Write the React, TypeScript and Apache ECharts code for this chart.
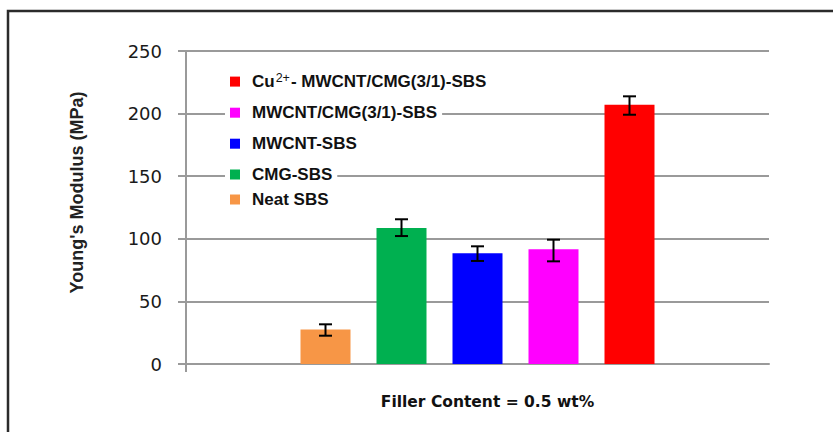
import React, { useEffect, useRef } from 'react';
import * as echarts from 'echarts';

// ---- data ----
const categories = ['0.5 wt%'];
const materials = ['Neat SBS', 'CMG-SBS', 'MWCNT-SBS', 'MWCNT/CMG(3/1)-SBS', 'Cu2+- MWCNT/CMG(3/1)-SBS'];
const modulus = [27.5, 108.6, 88.4, 91.6, 207.1];
const errLow = [22.6, 102.2, 82.3, 82.0, 199.1];
const errHigh = [31.7, 115.6, 94.0, 99.3, 213.8];
const colors = ['#F79646', '#00B050', '#0000FF', '#FF00FF', '#FF0000'];
const yMin = 0;
const yMax = 250;
const yStep = 50;
const yTitle = "Young's Modulus (MPa)";
const xTitle = 'Filler Content = 0.5 wt%';

// legend rows, top to bottom
const legendOrder = [4, 3, 2, 1, 0];
const legendRowCenters = [81.6, 112.7, 143.7, 174.5, 199.5];

const BAR_WIDTH = 50;
const BAR_GAP = '52%';
const GRID = '#9a9a9a';

export default function App() {
  const ref = useRef<HTMLDivElement>(null);
  useEffect(() => {
    if (!ref.current) return;
    const chart = echarts.init(ref.current, null, { renderer: 'svg' });

    const barSeries = materials.map((name, i) => ({
      type: 'bar',
      name,
      data: [modulus[i]],
      barWidth: BAR_WIDTH,
      barGap: BAR_GAP,
      itemStyle: { color: colors[i] },
      z: 2,
    }));

    const errData = materials.map((_, i) => [0, errLow[i], errHigh[i], i]);

    const legends = legendOrder.map((idx, row) => ({
      show: true,
      data: [materials[idx]],
      left: 225,
      top: legendRowCenters[row] - 10,
      orient: 'vertical',
      padding: [0, 5, 0, 5],
      backgroundColor: '#ffffff',
      itemWidth: 10,
      itemHeight: 10,
      icon: 'rect',
      selectedMode: false,
      formatter: (name: string) =>
        name.startsWith('Cu2+') ? '{t|Cu}{s|2+}{t|- MWCNT/CMG(3/1)-SBS}' : name,
      textStyle: {
        fontFamily: 'Liberation Sans, Arial, sans-serif',
        fontWeight: 'bold',
        fontSize: 17,
        color: '#111',
        lineHeight: 20,
        padding: [0, 0, 0, 7],
        rich: {
          t: {
            fontFamily: 'Liberation Sans, Arial, sans-serif',
            fontWeight: 'bold',
            fontSize: 17,
            color: '#111',
            lineHeight: 20,
          },
          s: {
            fontFamily: 'Liberation Sans, Arial, sans-serif',
            fontWeight: 'normal',
            fontSize: 12.5,
            color: '#111',
            lineHeight: 20,
            verticalAlign: 'top',
            padding: [0, 1, 8, 1],
          },
        },
      },
    }));

    chart.setOption({
      animation: false,
      backgroundColor: '#ffffff',
      grid: { left: 186, right: 64, top: 51, bottom: 68, containLabel: false },
      legend: legends,
      xAxis: {
        type: 'category',
        data: categories,
        axisLine: { show: true, lineStyle: { color: GRID, width: 2 } },
        axisTick: { show: false },
        axisLabel: { show: false },
        splitLine: { show: false },
        name: xTitle,
        nameLocation: 'middle',
        nameGap: 30,
        nameTextStyle: {
          fontFamily: 'DejaVu Sans, sans-serif',
          fontWeight: 'bold',
          fontSize: 15.5,
          color: '#111',
          padding: [0, 0, 0, 20],
        },
      },
      yAxis: {
        type: 'value',
        min: yMin,
        max: yMax,
        interval: yStep,
        axisLine: { show: true, lineStyle: { color: GRID, width: 2 } },
        axisTick: { show: true, length: 8, lineStyle: { color: GRID, width: 2 } },
        splitLine: { show: true, lineStyle: { color: GRID, width: 2 } },
        axisLabel: {
          margin: 24,
          fontFamily: 'DejaVu Sans, sans-serif',
          fontSize: 18,
          color: '#1a1a1a',
        },
        name: yTitle,
        nameLocation: 'middle',
        nameRotate: 90,
        nameGap: 100,
        nameTextStyle: {
          fontFamily: 'Liberation Sans, Arial, sans-serif',
          fontWeight: 'bold',
          fontSize: 18,
          color: '#222',
          padding: [0, 0, 0, 30],
        },
      },
      graphic: [
        {
          type: 'polyline',
          shape: { points: [[8, 432], [8, 11], [833, 11]] },
          style: { stroke: '#2b2b2b', lineWidth: 2.5, fill: null },
          silent: true,
        },
        {
          type: 'line',
          shape: { x1: 186, y1: 364, x2: 186, y2: 372 },
          style: { stroke: GRID, lineWidth: 2 },
          silent: true,
        },
      ],
      series: [
        ...barSeries,
        {
          type: 'custom',
          name: 'error',
          data: errData,
          encode: { x: 0, y: [1, 2] },
          z: 5,
          silent: true,
          renderItem: (params: any, api: any) => {
            const low = api.value(1);
            const high = api.value(2);
            const k = api.value(3);
            const layout = api.barLayout({ barWidth: BAR_WIDTH, barGap: BAR_GAP, count: materials.length });
            const pHigh = api.coord([0, high]);
            const pLow = api.coord([0, low]);
            const cx = pHigh[0] + layout[k].offsetCenter;
            const hw = 6.5;
            const style = { stroke: '#000', lineWidth: 2 };
            return {
              type: 'group',
              children: [
                { type: 'line', shape: { x1: cx, y1: pHigh[1], x2: cx, y2: pLow[1] }, style },
                { type: 'line', shape: { x1: cx - hw, y1: pHigh[1], x2: cx + hw, y2: pHigh[1] }, style },
                { type: 'line', shape: { x1: cx - hw, y1: pLow[1], x2: cx + hw, y2: pLow[1] }, style },
              ],
            };
          },
        },
      ],
    });
    return () => chart.dispose();
  }, []);
  return (
    <div
      ref={ref}
      style={{ position: 'fixed', left: 0, top: 0, width: 833, height: 432, background: '#fff' }}
    />
  );
}
